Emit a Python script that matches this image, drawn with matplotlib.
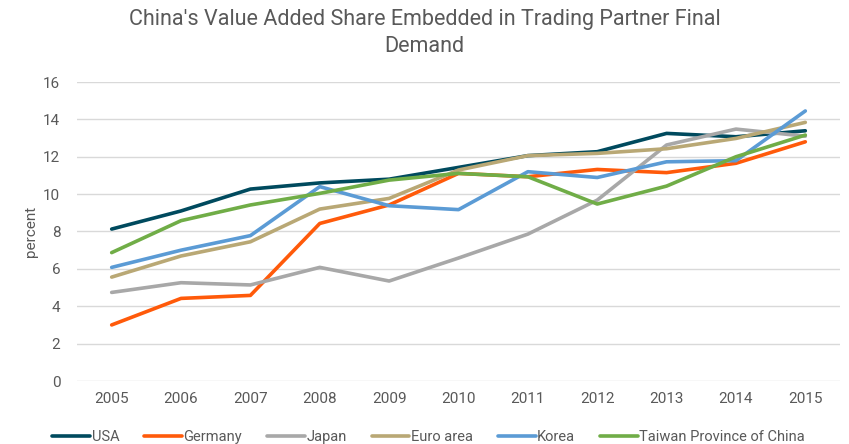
import matplotlib
matplotlib.use("Agg")
import matplotlib.pyplot as plt

years = ["2005", "2006", "2007", "2008", "2009", "2010", "2011", "2012", "2013", "2014", "2015"]
usa = [8.13, 9.1, 10.27, 10.6, 10.8, 11.43, 12.06, 12.27, 13.25, 13.07, 13.39]
germany = [3.0, 4.42, 4.58, 8.43, 9.42, 11.11, 10.93, 11.32, 11.15, 11.65, 12.8]
japan = [4.74, 5.26, 5.14, 6.08, 5.35, 6.58, 7.86, 9.68, 12.63, 13.48, 13.1]
euro = [5.56, 6.69, 7.45, 9.2, 9.77, 11.29, 12.06, 12.18, 12.43, 12.98, 13.84]
korea = [6.08, 7.0, 7.78, 10.4, 9.38, 9.17, 11.2, 10.89, 11.73, 11.79, 14.45]
taiwan = [6.87, 8.58, 9.42, 10.04, 10.75, 11.11, 10.93, 9.47, 10.43, 12.0, 13.16]

series = [
    ("USA", usa, "#004a5e"),
    ("Germany", germany, "#ff5a0a"),
    ("Japan", japan, "#a8a8a8"),
    ("Euro area", euro, "#b9a875"),
    ("Korea", korea, "#5b9bd5"),
    ("Taiwan Province of China", taiwan, "#70ad47"),
]

plt.rcParams['font.family'] = ['Roboto', 'DejaVu Sans']
fig = plt.figure(figsize=(8.49, 4.44), dpi=100)
ax = fig.add_axes([77/849, 1-381/444, (840-77)/849, (381-82)/444])

x = list(range(len(years)))
for name, vals, col in series:
    ax.plot(x, vals, color=col, lw=2.6, label=name, solid_capstyle='round')

ax.set_xlim(-0.5, len(years) - 0.5)
ax.set_ylim(0, 16)
ax.set_yticks(range(0, 17, 2))
ax.set_xticks(x)
ax.set_xticklabels(years)
ax.grid(axis='y', color='#d9d9d9', lw=1)
ax.set_axisbelow(True)
for s in ax.spines.values():
    s.set_visible(False)
ax.tick_params(length=0, colors='#595959', labelsize=11)
ax.tick_params(axis='x', pad=8)
ax.tick_params(axis='y', pad=12)
ax.set_ylabel("percent", color='#595959', fontsize=11, labelpad=4)

fig.text(0.5, 1-33/444, "China's Value Added Share Embedded in Trading Partner Final\nDemand",
         ha='center', va='center', fontsize=15.5, color='#595959', linespacing=1.35)

leg = fig.legend(loc='center', bbox_to_anchor=(0.505, 1-437/444), ncol=6, frameon=False,
                 fontsize=10.5, handlelength=2.6, handletextpad=0.1, columnspacing=1.7)
for t in leg.get_texts():
    t.set_color('#595959')

fig.savefig("out.png", dpi=100)
